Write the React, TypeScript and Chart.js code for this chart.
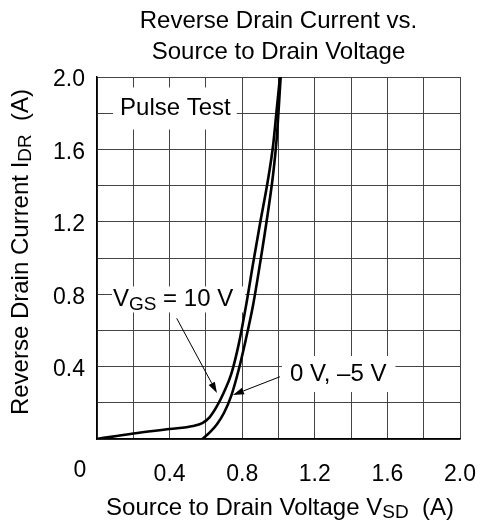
import React, { useEffect, useRef } from "react";
import { Chart, registerables } from "chart.js";

Chart.register(...registerables);

const FONT = '"Liberation Sans", Arial, Helvetica, sans-serif';

const titleLines = ["Reverse Drain Current vs.", "Source to Drain Voltage"];
const xTickLabels = ["0", "0.4", "0.8", "1.2", "1.6", "2.0"];
const yTickLabels = ["0.4", "0.8", "1.2", "1.6", "2.0"];

// V_GS = 10 V curve
const vgs10Vsd = [0, 0.2, 0.4, 0.53, 0.58, 0.62, 0.66, 0.7, 0.74, 0.78, 0.82, 0.86, 0.9, 0.94, 0.97, 0.99, 1.008];
const vgs10Idr = [0, 0.03, 0.055, 0.072, 0.088, 0.12, 0.18, 0.26, 0.36, 0.52, 0.73, 0.97, 1.2, 1.42, 1.62, 1.82, 2.0];

// V_GS = 0 V, -5 V curve
const vgs0Vsd = [0.58, 0.62, 0.66, 0.7, 0.74, 0.78, 0.82, 0.86, 0.9, 0.94, 0.97, 0.99, 1.012];
const vgs0Idr = [0, 0.035, 0.08, 0.145, 0.24, 0.38, 0.55, 0.74, 0.98, 1.24, 1.46, 1.66, 2.0];

type Part = { t: string; sub?: boolean };

const labels = [
  { parts: [{ t: "Pulse Test" }] as Part[], x: 0.127, y: 1.826, padL: 7, padR: 6, padY: 21 },
  { parts: [{ t: "V" }, { t: "GS", sub: true }, { t: " = 10 V" }] as Part[], x: 0.088, y: 0.771, padL: 1, padR: 12, padY: 13 },
  { parts: [{ t: "0 V, \u20135 V" }] as Part[], x: 1.063, y: 0.359, padL: 8, padR: 9, padY: 18 },
];

const arrows = [
  { from: [0.439, 0.667], to: [0.661, 0.254] },
  { from: [1.008, 0.344], to: [0.749, 0.243] },
];

const FS = 24;
const TICK_FS = 23;
const SUB = 19;

function richWidth(ctx: CanvasRenderingContext2D, parts: Part[]) {
  let w = 0;
  for (const p of parts) {
    ctx.font = `${p.sub ? SUB : FS}px ${FONT}`;
    w += ctx.measureText(p.t).width;
  }
  return w;
}

function drawRich(ctx: CanvasRenderingContext2D, parts: Part[], x: number, y: number, align: "left" | "center") {
  const w = richWidth(ctx, parts);
  let cx = align === "center" ? x - w / 2 : x;
  ctx.textAlign = "left";
  ctx.textBaseline = "middle";
  ctx.fillStyle = "#000";
  for (const p of parts) {
    ctx.font = `${p.sub ? SUB : FS}px ${FONT}`;
    ctx.fillText(p.t, cx, p.sub ? y + 5 : y);
    cx += ctx.measureText(p.t).width;
  }
  return w;
}

const decorPlugin = {
  id: "decor",
  beforeDatasetsDraw(chart: any) {
    const ctx = chart.ctx as CanvasRenderingContext2D;
    const xs = chart.scales.x;
    const ys = chart.scales.y;
    ctx.save();
    for (const l of labels) {
      const px = xs.getPixelForValue(l.x);
      const py = ys.getPixelForValue(l.y);
      const w = richWidth(ctx, l.parts);
      ctx.fillStyle = "#fff";
      ctx.fillRect(px - l.padL, py - l.padY, w + l.padL + l.padR, l.padY * 2);
      drawRich(ctx, l.parts, px, py, "left");
    }
    ctx.restore();
  },
  afterDraw(chart: any) {
    const ctx = chart.ctx as CanvasRenderingContext2D;
    const xs = chart.scales.x;
    const ys = chart.scales.y;
    const ca = chart.chartArea;
    ctx.save();
    // arrows
    for (const a of arrows) {
      const x1 = xs.getPixelForValue(a.from[0]);
      const y1 = ys.getPixelForValue(a.from[1]);
      const x2 = xs.getPixelForValue(a.to[0]);
      const y2 = ys.getPixelForValue(a.to[1]);
      const ang = Math.atan2(y2 - y1, x2 - x1);
      const hl = 11;
      const hw = 3.5;
      const bx = x2 - hl * Math.cos(ang);
      const by = y2 - hl * Math.sin(ang);
      ctx.strokeStyle = "#000";
      ctx.lineWidth = 1;
      ctx.beginPath();
      ctx.moveTo(x1, y1);
      ctx.lineTo(bx, by);
      ctx.stroke();
      ctx.fillStyle = "#000";
      ctx.beginPath();
      ctx.moveTo(x2, y2);
      ctx.lineTo(bx + hw * Math.sin(ang), by - hw * Math.cos(ang));
      ctx.lineTo(bx - hw * Math.sin(ang), by + hw * Math.cos(ang));
      ctx.closePath();
      ctx.fill();
    }
    // title
    const cxm = (ca.left + ca.right) / 2;
    ctx.font = `${FS}px ${FONT}`;
    ctx.fillStyle = "#000";
    ctx.textAlign = "center";
    ctx.textBaseline = "middle";
    ctx.fillText(titleLines[0], cxm, 21);
    ctx.fillText(titleLines[1], cxm, 52);
    // x "0" tick label (offset left of the axis)
    ctx.font = `${TICK_FS}px ${FONT}`;
    ctx.fillText(xTickLabels[0], xs.getPixelForValue(0) - 17, 471);
    // x axis title
    drawRich(ctx, [{ t: "Source to Drain Voltage V" }, { t: "SD", sub: true }, { t: "  (A)" }], 280, 508, "center");
    // y axis title
    ctx.save();
    ctx.translate(21, 252);
    ctx.rotate(-Math.PI / 2);
    drawRich(ctx, [{ t: "Reverse Drain Current I" }, { t: "DR", sub: true }, { t: "  (A)" }], 0, 0, "center");
    ctx.restore();
    ctx.restore();
  },
};

export default function App() {
  const ref = useRef<HTMLCanvasElement | null>(null);
  useEffect(() => {
    document.body.style.margin = "0";
    const canvas = ref.current!;
    const chart = new Chart(canvas, {
      type: "line",
      data: {
        datasets: [
          {
            label: "VGS = 10 V",
            data: vgs10Vsd.map((v, i) => ({ x: v, y: vgs10Idr[i] })),
            borderColor: "#000",
            borderWidth: 2.6,
            pointRadius: 0,
            cubicInterpolationMode: "monotone",
            fill: false,
          },
          {
            label: "0 V, -5 V",
            data: vgs0Vsd.map((v, i) => ({ x: v, y: vgs0Idr[i] })),
            borderColor: "#000",
            borderWidth: 2.6,
            pointRadius: 0,
            cubicInterpolationMode: "monotone",
            fill: false,
          },
        ],
      },
      options: {
        animation: false,
        responsive: false,
        events: [],
        layout: { autoPadding: false, padding: { left: 0, right: 20, top: 77, bottom: 0 } },
        plugins: { legend: { display: false }, tooltip: { enabled: false }, title: { display: false } },
        scales: {
          x: {
            type: "linear",
            min: 0,
            max: 2,
            afterFit: (s: any) => {
              s.height = 83;
              s.paddingLeft = 0;
              s.paddingRight = 0;
            },
            border: { color: "#000", width: 1.5 },
            grid: { color: "#444", lineWidth: 1, drawTicks: false },
            ticks: {
              stepSize: 0.2,
              autoSkip: false,
              maxRotation: 0,
              padding: 22,
              color: "#000",
              font: { family: FONT, size: TICK_FS },
              callback: (v: any) => {
                const k = Math.round(Number(v) * 10);
                if (k === 0 || k % 4 !== 0) return "";
                return xTickLabels[k / 4];
              },
            },
          },
          y: {
            type: "linear",
            min: 0,
            max: 2,
            afterFit: (s: any) => {
              s.width = 97;
              s.paddingTop = 0;
              s.paddingBottom = 0;
            },
            border: { color: "#000", width: 1.5 },
            grid: { color: "#444", lineWidth: 1, drawTicks: false },
            ticks: {
              stepSize: 0.2,
              autoSkip: false,
              padding: 12,
              labelOffset: 3,
              color: "#000",
              font: { family: FONT, size: TICK_FS },
              callback: (v: any) => {
                const k = Math.round(Number(v) * 10);
                if (k === 0 || k % 4 !== 0) return "";
                return yTickLabels[k / 4 - 1];
              },
            },
          },
        },
      },
      plugins: [decorPlugin],
    } as any);
    return () => chart.destroy();
  }, []);
  return (
    <div style={{ width: 480, height: 522 }}>
      <canvas ref={ref} width={480} height={522} />
    </div>
  );
}
